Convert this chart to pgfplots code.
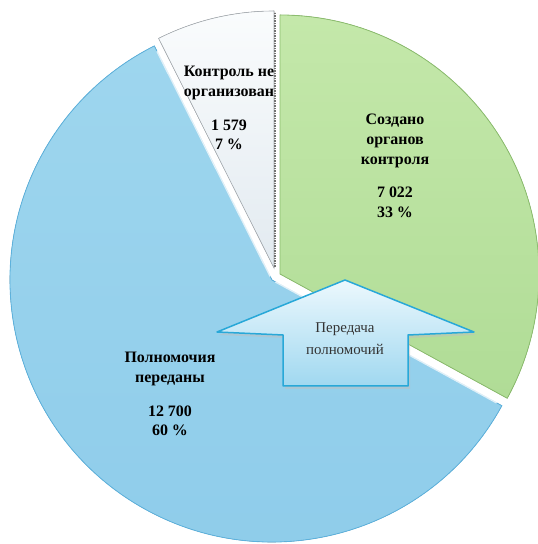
\documentclass[border=0pt]{standalone}
\usepackage{pgfplots}
\pgfplotsset{compat=1.18}
\usepackage{pgfplotstable}
\usetikzlibrary{calc}
\usepackage{fontspec}
\setmainfont{Liberation Serif}

\definecolor{blueA}{RGB}{158,214,238}
\definecolor{blueB}{RGB}{142,204,234}
\definecolor{blueE}{RGB}{92,178,222}
\definecolor{greenA}{RGB}{196,232,170}
\definecolor{greenB}{RGB}{176,220,150}
\definecolor{greenE}{RGB}{140,190,110}
\definecolor{greyA}{RGB}{250,252,253}
\definecolor{greyB}{RGB}{226,234,240}
\definecolor{arrowA}{RGB}{236,248,253}
\definecolor{arrowB}{RGB}{160,216,240}
\definecolor{arrowE}{RGB}{40,168,216}

% values: Создано органов контроля, Полномочия переданы, Контроль не организован
\pgfplotstableread{
value
7022
12700
1579
}\piedata

\begin{document}
\begin{tikzpicture}
\pgfplotstablegetelem{0}{value}\of\piedata \pgfmathsetmacro\vA{\pgfplotsretval/100}
\pgfplotstablegetelem{1}{value}\of\piedata \pgfmathsetmacro\vB{\pgfplotsretval/100}
\pgfplotstablegetelem{2}{value}\of\piedata \pgfmathsetmacro\vC{\pgfplotsretval/100}
\pgfmathsetmacro\tot{\vA+\vB+\vC}
\pgfmathsetmacro\sA{90}
\pgfmathsetmacro\eA{90-360*(\vA/\tot)}
\pgfmathsetmacro\eB{\eA-360*(\vB/\tot)}
\pgfmathsetmacro\eC{\eB-360*(\vC/\tot)}
\begin{axis}[
  scale only axis, width=538bp, height=544bp,
  xmin=0, xmax=538, ymin=0, ymax=544,
  hide axis, clip=false, enlargelimits=false]
\addplot[draw=none] coordinates {(0,0) (538,544)};
% blue slice
\fill[top color=blueA, bottom color=blueB, draw=blueE, line width=0.8bp]
  (axis cs:272,264) -- ++(\eA:262bp) arc[start angle=\eA, end angle=\eB, radius=262bp] -- cycle;
\draw[white, line width=1.5bp, opacity=0.8] ($(axis cs:272,264)+(\eA:4bp)$) -- ++(\eA:252bp);
\draw[white, line width=1.5bp, opacity=0.8] ($(axis cs:272,264)+(\eB:4bp)$) -- ++(\eB:252bp);
% grey slice
\fill[top color=greyA, bottom color=greyB, draw=greyB!75!black, line width=0.6bp]
  (axis cs:274,276) -- ++(\eB:257bp) arc[start angle=\eB, end angle=\eC, radius=257bp] -- cycle;
\node[font=\fontsize{16}{20}\selectfont\bfseries, align=center, text=black]
  at (axis cs:229,436) {Контроль не\\организован\\[14bp]1 579\\7 \%};
% green slice
\fill[top color=greenA, bottom color=greenB, draw=greenE, line width=0.8bp]
  (axis cs:280,270) -- ++(\sA:259bp) arc[start angle=\sA, end angle=\eA, radius=259bp] -- cycle;
\draw[black!55, line width=1.2bp, dash pattern=on 1.5bp off 1bp] (axis cs:275,277) -- (axis cs:275,532);
\node[font=\fontsize{16}{20}\selectfont\bfseries, align=center, text=black]
  at (axis cs:395,378) {Создано\\органов\\контроля\\[13bp]7 022\\33 \%};
\node[font=\fontsize{16}{20}\selectfont\bfseries, align=center, text=black]
  at (axis cs:170,150) {Полномочия\\переданы\\[14bp]12 700\\60 \%};
% arrow
\fill[black!25, opacity=0.5] (axis cs:347,261) -- (axis cs:476,209) -- (axis cs:410,206) -- (axis cs:410,155)
  -- (axis cs:285,155) -- (axis cs:285,206) -- (axis cs:219,209) -- cycle;
\fill[top color=arrowA, bottom color=arrowB, draw=arrowE, line width=1.5bp, line join=round]
  (axis cs:345,264) -- (axis cs:474,212) -- (axis cs:408,209) -- (axis cs:408,158)
  -- (axis cs:283,158) -- (axis cs:283,209) -- (axis cs:217,212) -- cycle;
\node[font=\fontsize{15}{22}\selectfont, align=center, text=black!80]
  at (axis cs:345,205) {Передача\\полномочий};
\end{axis}
\pgfresetboundingbox
\useasboundingbox (0,0) rectangle (538bp,544bp);
\end{tikzpicture}
\end{document}
